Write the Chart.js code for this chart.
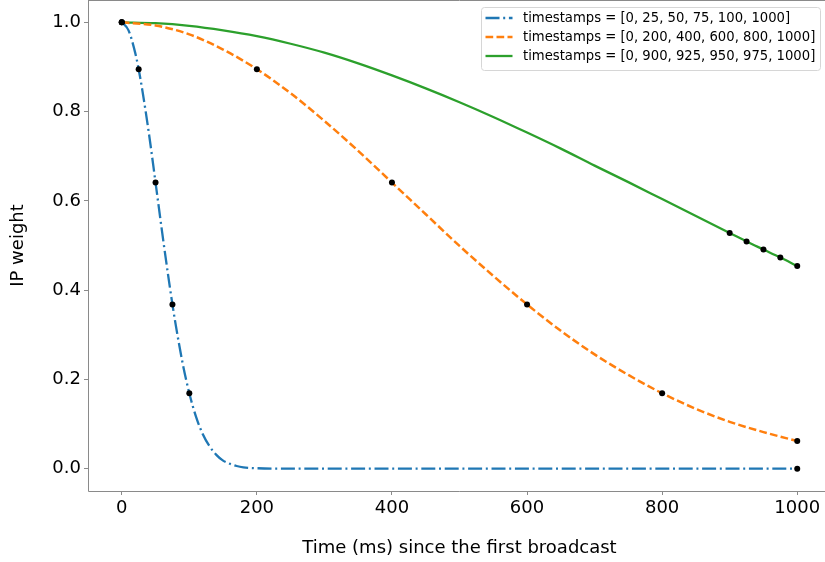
<!DOCTYPE html>
<html>
<head>
<meta charset="utf-8">
<script src="https://cdn.jsdelivr.net/npm/chart.js@4.4.1/dist/chart.umd.min.js"></script>
<style>
  html, body { margin: 0; padding: 0; background: #fff; overflow: hidden; }
  #wrap { width: 840px; height: 562px; }
</style>
</head>
<body>
<div id="wrap"><canvas id="ipChart"></canvas></div>
<script>
// =================== DATA ===================
const xTicks = [0, 200, 400, 600, 800, 1000];
const yTicks = [0, 0.2, 0.4, 0.6, 0.8, 1.0];

// blue: timestamps [0, 25, 50, 75, 100, 1000]
const blueTime   = [0, 10, 20, 25, 30, 40, 50, 60, 70, 75, 80, 90, 100, 110, 120, 130, 140, 150, 160, 170, 180, 200, 250, 300, 400, 500, 600, 700, 800, 900, 1000];
const blueWeight = [1.0, 0.982, 0.931, 0.895, 0.852, 0.753, 0.641, 0.527, 0.419, 0.368, 0.321, 0.237, 0.169, 0.116, 0.077, 0.050, 0.031, 0.018, 0.011, 0.006, 0.003, 0.001, 0, 0, 0, 0, 0, 0, 0, 0, 0];
const blueStamps = [0, 25, 50, 75, 100, 1000];
const blueStampW = [1.0, 0.895, 0.641, 0.368, 0.169, 0.0];

// orange: timestamps [0, 200, 400, 600, 800, 1000]
const orangeTime   = [0, 50, 100, 150, 200, 250, 300, 350, 400, 450, 500, 550, 600, 650, 700, 750, 800, 850, 900, 950, 1000];
const orangeWeight = [1.0, 0.993, 0.973, 0.939, 0.895, 0.841, 0.779, 0.712, 0.641, 0.570, 0.499, 0.432, 0.368, 0.309, 0.256, 0.210, 0.169, 0.134, 0.105, 0.082, 0.062];
const orangeStamps = [0, 200, 400, 600, 800, 1000];
const orangeStampW = [1.0, 0.895, 0.641, 0.368, 0.169, 0.062];

// green: timestamps [0, 900, 925, 950, 975, 1000]
const greenTime   = [0, 50, 100, 150, 200, 250, 300, 350, 400, 450, 500, 550, 600, 650, 700, 750, 800, 850, 900, 925, 950, 975, 1000];
const greenWeight = [1.0, 0.998, 0.992, 0.982, 0.969, 0.952, 0.932, 0.908, 0.881, 0.852, 0.821, 0.788, 0.753, 0.717, 0.679, 0.642, 0.604, 0.566, 0.528, 0.509, 0.491, 0.473, 0.454];
const greenStamps = [0, 900, 925, 950, 975, 1000];
const greenStampW = [1.0, 0.528, 0.509, 0.491, 0.473, 0.454];

const BLUE = "#1f77b4", ORANGE = "#ff7f0e", GREEN = "#2ca02c";
const SPINE = "#8a8a8a";
const FONT = "'DejaVu Sans', sans-serif";

const pts = (xs, ys) => xs.map((x, i) => ({ x, y: ys[i] }));
const stampLabel = (ts) => `timestamps = [${ts.join(", ")}]`;

// =================== DATASETS ===================
function lineSet(label, xs, ys, color, dash, width) {
  return {
    legendLabel: label,
    data: pts(xs, ys),
    borderColor: color,
    borderWidth: width,
    borderDash: dash,
    pointRadius: 0,
    cubicInterpolationMode: "monotone",
    fill: false,
    order: 1
  };
}
function dotSet(xs, ys) {
  return {
    data: pts(xs, ys),
    showLine: false,
    pointRadius: 3,
    pointBackgroundColor: "#000",
    pointBorderColor: "#000",
    pointBorderWidth: 0,
    order: 0
  };
}

const datasets = [
  lineSet(stampLabel(blueStamps), blueTime, blueWeight, BLUE, [14, 3.7, 2, 3.7], 2.3),
  lineSet(stampLabel(orangeStamps), orangeTime, orangeWeight, ORANGE, [7.7, 3.3], 2.5),
  lineSet(stampLabel(greenStamps), greenTime, greenWeight, GREEN, [], 2.3),
  dotSet(blueStamps, blueStampW),
  dotSet(orangeStamps, orangeStampW),
  dotSet(greenStamps, greenStampW)
];

// =================== PLUGINS: spines + legend ===================
// right spine falls outside the visible window, like in the reference
const spines = {
  id: "spines",
  afterDatasetsDraw(chart) {
    const { ctx } = chart;
    const xs = chart.scales.x, ys = chart.scales.y;
    ctx.save();
    ctx.strokeStyle = SPINE;
    ctx.lineWidth = 1;
    ctx.beginPath();
    ctx.moveTo(xs.left + 0.5, ys.top + 0.5);
    ctx.lineTo(xs.left + 0.5, ys.bottom + 0.5);
    ctx.lineTo(xs.right, ys.bottom + 0.5);
    ctx.moveTo(xs.left, ys.top + 0.5);
    ctx.lineTo(xs.right, ys.top + 0.5);
    ctx.stroke();
    ctx.restore();
  }
};

const boxLegend = {
  id: "boxLegend",
  afterDraw(chart) {
    const { ctx } = chart;
    const items = chart.data.datasets.filter(d => d.legendLabel);
    const x0 = 481.5, y0 = 7.5, w = 339, h = 63, rowH = 19, sampleW = 27;
    ctx.save();
    ctx.fillStyle = "rgba(255,255,255,0.85)";
    ctx.strokeStyle = "#d6d6d6";
    ctx.lineWidth = 1;
    ctx.beginPath();
    ctx.roundRect(x0, y0, w, h, 3);
    ctx.fill();
    ctx.stroke();
    ctx.font = `13.2px ${FONT}`;
    ctx.textBaseline = "middle";
    items.forEach((d, i) => {
      const cy = 18 + i * rowH;
      ctx.strokeStyle = d.borderColor;
      ctx.lineWidth = d.borderWidth;
      ctx.setLineDash(d.borderDash);
      ctx.beginPath();
      ctx.moveTo(x0 + 4, cy);
      ctx.lineTo(x0 + 4 + sampleW, cy);
      ctx.stroke();
      ctx.setLineDash([]);
      ctx.fillStyle = "#000";
      ctx.fillText(d.legendLabel, 523, cy + 0.5);
    });
    ctx.restore();
  }
};

// =================== CHART ===================
Chart.defaults.font.family = FONT;
Chart.defaults.color = "#000";

const tickGrid = { drawOnChartArea: false, drawTicks: true, tickLength: 4, color: SPINE };

new Chart(document.getElementById("ipChart"), {
  type: "line",
  data: { datasets },
  plugins: [spines, boxLegend],
  options: {
    responsive: true,
    maintainAspectRatio: false,
    animation: false,
    layout: { autoPadding: false, padding: { top: 0, right: 9, left: 0, bottom: 0 } },
    plugins: { legend: { display: false }, tooltip: { enabled: false } },
    scales: {
      x: {
        type: "linear",
        min: -50,
        max: 1050,
        afterBuildTicks: (s) => { s.ticks = xTicks.map(v => ({ value: v })); },
        afterFit: (s) => { s.height = 71; s.paddingLeft = 0; s.paddingRight = 0; },
        grid: tickGrid,
        border: { display: false },
        ticks: { font: { size: 18 }, padding: 3, maxRotation: 0, callback: (v) => String(v) },
        title: { display: true, text: "Time (ms) since the first broadcast", font: { size: 18 }, padding: { bottom: 3 } }
      },
      y: {
        type: "linear",
        min: -0.05,
        max: 1.05,
        afterBuildTicks: (s) => { s.ticks = yTicks.map(v => ({ value: v })); },
        afterFit: (s) => { s.width = 88; s.paddingTop = 0; s.paddingBottom = 0; },
        grid: tickGrid,
        border: { display: false },
        ticks: { font: { size: 18 }, padding: 3, callback: (v) => Number(v).toFixed(1) },
        title: { display: true, text: "IP weight", font: { size: 18 }, padding: { top: 8 } }
      }
    }
  }
});
</script>
</body>
</html>
